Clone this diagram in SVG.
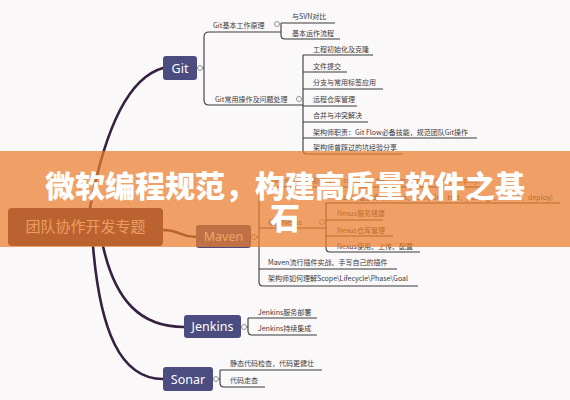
<svg xmlns="http://www.w3.org/2000/svg" width="570" height="400" viewBox="0 0 570 400">
<style>
.bg{fill:#FBF8FA}
.main{fill:none;stroke:#35203F;stroke-width:2.6;stroke-linecap:round}
.br{fill:none;stroke:#3A3A3A;stroke-width:1.1}
.dot{fill:#FBF8FA;stroke:#8A8A8A;stroke-width:0.9}
.box{fill:#4B4C80}
.lbl{font-family:"Noto Sans","Noto Sans CJK SC",sans-serif;font-size:12.5px;fill:#FFFFFF;text-anchor:middle}
.t{font-family:"Noto Sans CJK SC","Noto Sans",sans-serif;font-size:7px;fill:#3A3A3A}
.title{font-family:"Noto Sans CJK SC",sans-serif;font-size:30px;font-weight:900;fill:#FFFFFF;text-anchor:middle}
</style>
<rect class="bg" x="0" y="0" width="570" height="400"/>
<g id="connectors">
<path class="main" d="M90,208 C100,155 120,80 163,68"/>
<path class="main" d="M163,230 C180,230 180,237 196,237"/>
<path class="main" d="M103,246 C115,300 140,327 184,327"/>
<path class="main" d="M93,246 C100,330 120,379 163,379"/>
<path class="br" d="M197,68 H204 M209,32 Q204,32 204,37 V100 Q204,105 209,105 M209,32 H281 M209,105 H303"/>
<path class="br" d="M281,23 V35 Q281,39 285,39 H340 M281,23 H335"/>
<path class="br" d="M303,55 H373 M303,55 V150 Q303,154 307,154 H403 M303,72 H347 M303,89 H383 M303,106 H357 M303,122 H368 M303,138 H477"/>
<path class="br" d="M251,237 H259 M259,187 V282 Q259,286 263,286 H418 M259,187 H482 M259,228 H326 M259,269 H397"/>
<path class="br" d="M326,203 V248 Q326,252 330,252 H420 M326,203 H560 M326,220 H383 M326,236 H393"/>
<path class="br" d="M241,327 H248 M248,318 V331 Q248,335 252,335 H317 M248,318 H317"/>
<path class="br" d="M213,379 H220 M220,370 V383 Q220,387 224,387 H265 M220,370 H322"/>
<circle class="dot" cx="200" cy="68" r="2.5"/>
<circle class="dot" cx="277" cy="24" r="2.5"/>
<circle class="dot" cx="299" cy="99" r="2.5"/>
<circle class="dot" cx="254" cy="237" r="2.5"/>
<circle class="dot" cx="322" cy="222" r="2.5"/>
<circle class="dot" cx="244" cy="327" r="2.5"/>
<circle class="dot" cx="216" cy="379" r="2.5"/>
</g>
<g id="root">
<rect x="8" y="208" width="155" height="38" rx="4" fill="#3A1A3A"/>
<text x="85.5" y="232" font-family="Noto Sans CJK SC,sans-serif" font-size="15" fill="#F4E6E0" text-anchor="middle">团队协作开发专题</text>
</g>
<g id="git">
<rect class="box" x="163" y="56" width="34" height="24" rx="3"/>
<text class="lbl" x="180" y="72.5" font-size="13">Git</text>
</g>
<g id="git-basic"><text class="t" x="213" y="27.5">Git基本工作原理</text></g>
<g id="git-svn"><text class="t" x="292" y="19">与SVN对比</text></g>
<g id="git-flow"><text class="t" x="292" y="35.5">基本运作流程</text></g>
<g id="git-ops"><text class="t" x="215" y="101.5">Git常用操作及问题处理</text></g>
<g id="git-ops-1"><text class="t" x="313" y="51.5">工程初始化及克隆</text></g>
<g id="git-ops-2"><text class="t" x="313" y="68.5">文件提交</text></g>
<g id="git-ops-3"><text class="t" x="313" y="84.5">分支与常用标签应用</text></g>
<g id="git-ops-4"><text class="t" x="313" y="101.5">远程仓库管理</text></g>
<g id="git-ops-5"><text class="t" x="313" y="117.5">合并与冲突解决</text></g>
<g id="git-ops-6"><text class="t" x="313" y="134.5">架构师职责：Git Flow必备技能，规范团队Git操作</text></g>
<g id="git-ops-7"><text class="t" x="313" y="150">架构师曾踩过的坑经验分享</text></g>
<g id="maven">
<rect class="box" x="196" y="225" width="55" height="23" rx="3"/>
<text class="lbl" x="223.5" y="241">Maven</text>
</g>
<g id="maven-1"><text class="t" x="268" y="183" textLength="212" lengthAdjust="spacingAndGlyphs">Maven生命周期(clean、compile、test、package、install、deploy)</text></g>
<g id="maven-nexus"><text class="t" x="268" y="224.5">私服Nexus</text></g>
<g id="nexus-0"><text class="t" x="337" y="199.5" textLength="216" lengthAdjust="spacingAndGlyphs">Maven重要命令(clean、compile、test、package、install、deploy)</text></g>
<g id="nexus-1"><text class="t" x="337" y="216">Nexus服务搭建</text></g>
<g id="nexus-2"><text class="t" x="337" y="232.5">Nexus仓库管理</text></g>
<g id="nexus-3"><text class="t" x="337" y="248.5">Nexus使用、上传、配置</text></g>
<g id="maven-2"><text class="t" x="268" y="264.5">Maven流行插件实战、手写自己的插件</text></g>
<g id="maven-3"><text class="t" x="268" y="281">架构师如何理解Scope\Lifecycle\Phase\Goal</text></g>
<g id="jenkins">
<rect class="box" x="184" y="315" width="57" height="23" rx="3"/>
<text class="lbl" x="212.5" y="331">Jenkins</text>
</g>
<g id="jenkins-1"><text class="t" x="258" y="314.5">Jenkins服务部署</text></g>
<g id="jenkins-2"><text class="t" x="258" y="330.5">Jenkins持续集成</text></g>
<g id="sonar">
<rect class="box" x="163" y="367" width="50" height="24" rx="3"/>
<text class="lbl" x="188" y="383.5">Sonar</text>
</g>
<g id="sonar-1"><text class="t" x="230" y="365.5">静态代码检查，代码更健壮</text></g>
<g id="sonar-2"><text class="t" x="230" y="382.5">代码走查</text></g>
<g id="banner">
<rect x="0" y="151" width="570" height="96" fill="#EC7E2C" fill-opacity="0.72"/>
<text class="title" x="285" y="197">微软编程规范，构建高质量软件之基</text>
<text class="title" x="285" y="229">石</text>
</g>
</svg>
